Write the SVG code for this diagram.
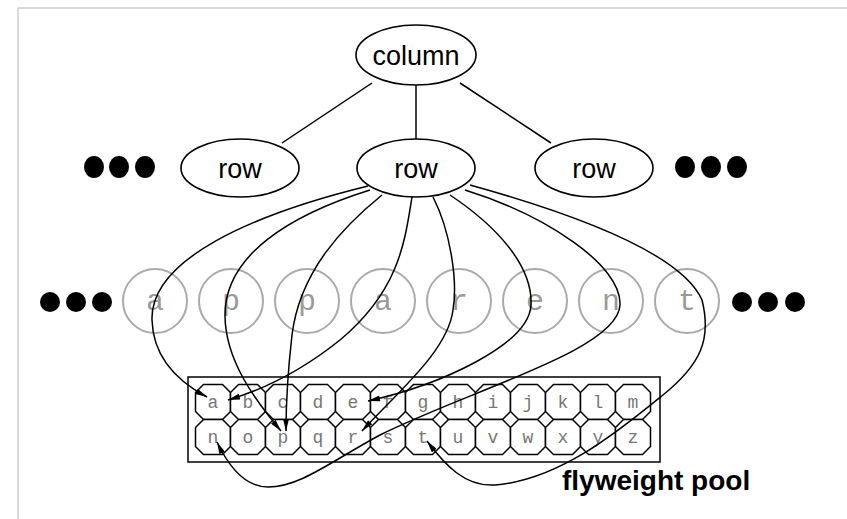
<svg xmlns="http://www.w3.org/2000/svg" xmlns:xlink="http://www.w3.org/1999/xlink" width="847" height="519" viewBox="0 0 847 519">
<defs>
<style>
.node{fill:#fff;stroke:#000;stroke-width:1.6}
.lbl{font-family:"Liberation Sans",Arial,sans-serif;font-size:27px;fill:#000;text-anchor:middle}
.gc{fill:none;stroke:#aaa;stroke-width:2}
.gl{font-family:"Liberation Mono","Courier New",monospace;font-size:30px;fill:#999;text-anchor:middle}
.cell{fill:#fff;stroke:#000;stroke-width:1.5}
.cl{font-family:"Liberation Mono","Courier New",monospace;font-size:18px;fill:#777;text-anchor:middle}
.edge{fill:none;stroke:#000;stroke-width:1.5}
.curve{fill:none;stroke:#000;stroke-width:1.5;marker-end:url(#arr)}
.dot{fill:#000}
</style>
<marker id="arr" viewBox="0 0 12 6" refX="12" refY="3" markerWidth="13" markerHeight="6" orient="auto" markerUnits="userSpaceOnUse">
<path d="M0,0 L12,3 L0,6 z" fill="#000"/>
</marker>
<polygon id="oct" points="-9.5,-17.5 9.5,-17.5 17.5,-9.5 17.5,9.5 9.5,17.5 -9.5,17.5 -17.5,9.5 -17.5,-9.5"/>
</defs>
<rect width="847" height="519" fill="#fff"/>
<g id="frame" stroke="#ccc" stroke-width="1.5" fill="none">
<line x1="18" y1="8" x2="847" y2="8"/>
<line x1="18" y1="8" x2="18" y2="519"/>
</g>

<g id="tree-edges">
<line class="edge" x1="372" y1="83" x2="282" y2="143"/>
<line class="edge" x1="416" y1="85" x2="416" y2="139"/>
<line class="edge" x1="460" y1="83" x2="551" y2="143"/>
</g>

<g id="column"><ellipse class="node" cx="416" cy="55" rx="60" ry="30"/><text class="lbl" x="416" y="65">column</text></g>
<g id="row-left"><ellipse class="node" cx="240" cy="168" rx="59" ry="29"/><text class="lbl" x="240" y="178">row</text></g>
<g id="row-mid"><ellipse class="node" cx="416" cy="168" rx="59" ry="29"/><text class="lbl" x="416" y="178">row</text></g>
<g id="row-right"><ellipse class="node" cx="594" cy="168" rx="59" ry="29"/><text class="lbl" x="594" y="178">row</text></g>

<g id="dots-row-left"><ellipse class="dot" cx="94" cy="167" rx="10" ry="11"/><ellipse class="dot" cx="119" cy="167" rx="10" ry="11"/><ellipse class="dot" cx="145" cy="167" rx="10" ry="11"/></g>
<g id="dots-row-right"><ellipse class="dot" cx="685" cy="167" rx="10" ry="11"/><ellipse class="dot" cx="711" cy="167" rx="10" ry="11"/><ellipse class="dot" cx="737" cy="167" rx="10" ry="11"/></g>

<g id="chars">
<g id="ch1"><circle class="gc" cx="155" cy="301" r="32"/><text class="gl" x="155" y="310">a</text></g>
<g id="ch2"><circle class="gc" cx="231" cy="301" r="32"/><text class="gl" x="231" y="310">p</text></g>
<g id="ch3"><circle class="gc" cx="307" cy="301" r="32"/><text class="gl" x="307" y="310">p</text></g>
<g id="ch4"><circle class="gc" cx="383" cy="301" r="32"/><text class="gl" x="383" y="310">a</text></g>
<g id="ch5"><circle class="gc" cx="459" cy="301" r="32"/><text class="gl" x="459" y="310">r</text></g>
<g id="ch6"><circle class="gc" cx="535" cy="301" r="32"/><text class="gl" x="535" y="310">e</text></g>
<g id="ch7"><circle class="gc" cx="611" cy="301" r="32"/><text class="gl" x="611" y="310">n</text></g>
<g id="ch8"><circle class="gc" cx="687" cy="301" r="32"/><text class="gl" x="687" y="310">t</text></g>
</g>

<g id="dots-char-left"><circle class="dot" cx="50" cy="302" r="10"/><circle class="dot" cx="76" cy="302" r="10"/><circle class="dot" cx="102" cy="302" r="10"/></g>
<g id="dots-char-right"><circle class="dot" cx="742" cy="302" r="10"/><circle class="dot" cx="768" cy="302" r="10"/><circle class="dot" cx="795" cy="302" r="10"/></g>

<g id="pool">
<rect x="188" y="377" width="472" height="85" fill="#fff" stroke="#000" stroke-width="1.5"/>
<g id="cells">
<use href="#oct" class="cell" x="213" y="402"/><text class="cl" x="213" y="408">a</text>
<use href="#oct" class="cell" x="248" y="402"/><text class="cl" x="248" y="408">b</text>
<use href="#oct" class="cell" x="283" y="402"/><text class="cl" x="283" y="408">c</text>
<use href="#oct" class="cell" x="318" y="402"/><text class="cl" x="318" y="408">d</text>
<use href="#oct" class="cell" x="353" y="402"/><text class="cl" x="353" y="408">e</text>
<use href="#oct" class="cell" x="388" y="402"/><text class="cl" x="388" y="408">f</text>
<use href="#oct" class="cell" x="423" y="402"/><text class="cl" x="423" y="408">g</text>
<use href="#oct" class="cell" x="458" y="402"/><text class="cl" x="458" y="408">h</text>
<use href="#oct" class="cell" x="493" y="402"/><text class="cl" x="493" y="408">i</text>
<use href="#oct" class="cell" x="528" y="402"/><text class="cl" x="528" y="408">j</text>
<use href="#oct" class="cell" x="563" y="402"/><text class="cl" x="563" y="408">k</text>
<use href="#oct" class="cell" x="598" y="402"/><text class="cl" x="598" y="408">l</text>
<use href="#oct" class="cell" x="633" y="402"/><text class="cl" x="633" y="408">m</text>
<use href="#oct" class="cell" x="213" y="437"/><text class="cl" x="213" y="443">n</text>
<use href="#oct" class="cell" x="248" y="437"/><text class="cl" x="248" y="443">o</text>
<use href="#oct" class="cell" x="283" y="437"/><text class="cl" x="283" y="443">p</text>
<use href="#oct" class="cell" x="318" y="437"/><text class="cl" x="318" y="443">q</text>
<use href="#oct" class="cell" x="353" y="437"/><text class="cl" x="353" y="443">r</text>
<use href="#oct" class="cell" x="388" y="437"/><text class="cl" x="388" y="443">s</text>
<use href="#oct" class="cell" x="423" y="437"/><text class="cl" x="423" y="443">t</text>
<use href="#oct" class="cell" x="458" y="437"/><text class="cl" x="458" y="443">u</text>
<use href="#oct" class="cell" x="493" y="437"/><text class="cl" x="493" y="443">v</text>
<use href="#oct" class="cell" x="528" y="437"/><text class="cl" x="528" y="443">w</text>
<use href="#oct" class="cell" x="563" y="437"/><text class="cl" x="563" y="443">x</text>
<use href="#oct" class="cell" x="598" y="437"/><text class="cl" x="598" y="443">y</text>
<use href="#oct" class="cell" x="633" y="437"/><text class="cl" x="633" y="443">z</text>
</g>
<text id="pool-label" x="562" y="490" font-family="'Liberation Sans',Arial,sans-serif" font-size="28" font-weight="bold" fill="#000">flyweight pool</text>
</g>

<g id="connectors">
<path class="curve" d="M368,186 C250,215 150,260 152,320 C153,355 175,380 207,397"/>
<path class="curve" d="M370,190 C290,215 225,255 225,315 C225,360 255,400 281,431"/>
<path class="curve" d="M382,195 C345,225 300,270 292,335 C288,370 286,400 286,431"/>
<path class="curve" d="M412,197 C405,240 400,290 340,340 C300,372 262,390 228,400"/>
<path class="curve" d="M433,197 C450,230 458,280 453,310 C448,350 400,390 362,431"/>
<path class="curve" d="M450,195 C495,225 533,265 531,305 C529,345 440,385 368,401"/>
<path class="curve" d="M465,190 C545,215 622,265 620,305 C618,350 470,390 380,435 C330,462 300,487 268,487 C245,487 228,465 217,442"/>
<path class="curve" d="M470,185 C560,210 680,250 702,300 C712,340 700,365 663,395 C620,430 560,480 495,485 C465,487 445,465 427,441"/>
</g>
</svg>
